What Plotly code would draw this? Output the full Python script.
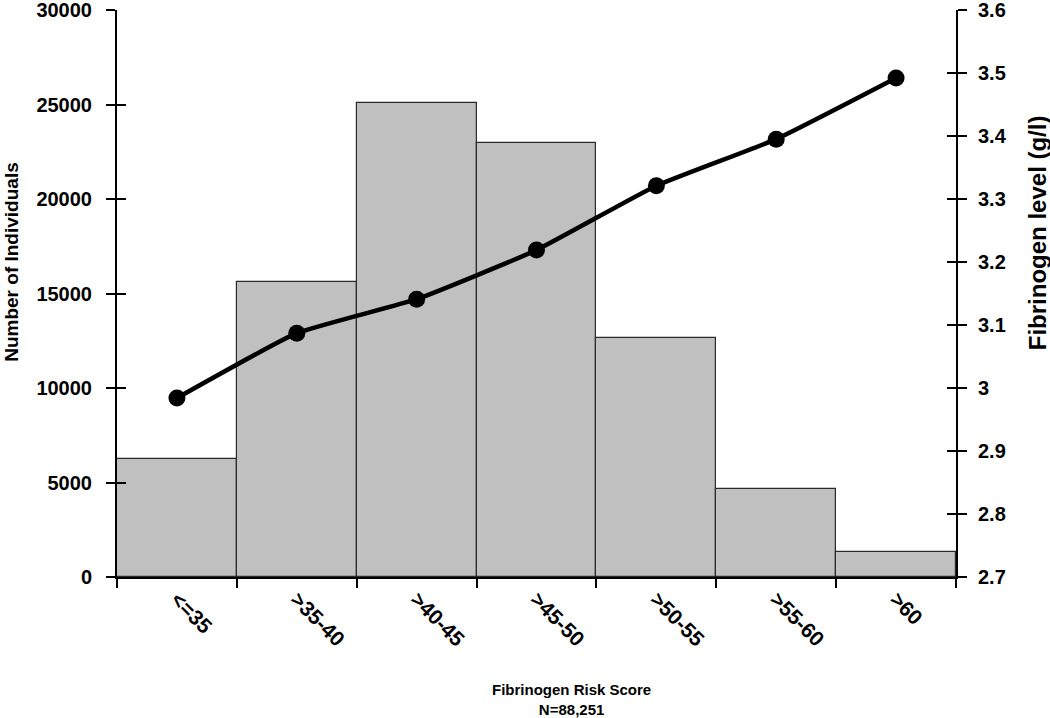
import plotly.graph_objects as go

categories = ["<=35", ">35-40", ">40-45", ">45-50", ">50-55", ">55-60", ">60"]
counts = [6250, 15600, 25100, 22950, 12650, 4650, 1300]
fibrinogen = [2.984, 3.087, 3.141, 3.219, 3.321, 3.395, 3.492]

left_ticks = [0, 5000, 10000, 15000, 20000, 25000, 30000]
left_tick_text = ["0", "5000", "10000", "15000", "20000", "25000", "30000"]
right_ticks = [2.7, 2.8, 2.9, 3.0, 3.1, 3.2, 3.3, 3.4, 3.5, 3.6]
right_tick_text = ["2.7", "2.8", "2.9", "3", "3.1", "3.2", "3.3", "3.4", "3.5", "3.6"]

FONT = "Liberation Sans, Arial, sans-serif"

fig = go.Figure()
fig.add_trace(go.Bar(
    x=categories, y=counts, yaxis="y",
    marker=dict(color="#c0c0c0", line=dict(color="#2a2a2a", width=1.2)),
    width=1.0, showlegend=False,
))
fig.add_trace(go.Scatter(
    x=categories, y=fibrinogen, yaxis="y2",
    mode="lines+markers",
    line=dict(color="black", width=4.5, shape="spline", smoothing=0.4),
    marker=dict(color="black", size=17),
    showlegend=False,
))

common = dict(ticks="outside", ticklen=9, tickwidth=2, tickcolor="black",
              showline=True, linecolor="black", linewidth=2, showgrid=False,
              zeroline=False, automargin=False, ticklabeloverflow="allow")

fig.update_layout(
    width=1050, height=718,
    margin=dict(l=117, r=94, t=10, b=141),
    paper_bgcolor="white", plot_bgcolor="white",
    font=dict(family=FONT, color="black"),
    bargap=0,
    xaxis=dict(
        type="category", tickson="boundaries", ticks="outside", ticklen=9,
        tickwidth=2, tickcolor="black", showline=True, linecolor="black",
        linewidth=2, tickangle=45, showgrid=False, automargin=False,
        tickfont=dict(family=FONT, size=21, color="black", weight="bold"),
    ),
    yaxis=dict(
        range=[0, 30000], tickvals=left_ticks, ticktext=left_tick_text,
        ticklabelstandoff=10,
        tickfont=dict(family=FONT, size=20, color="black", weight="bold"),
        **common,
    ),
    yaxis2=dict(
        range=[2.7, 3.6], tickvals=right_ticks, ticktext=right_tick_text,
        overlaying="y", side="right", ticklabelstandoff=7,
        tickfont=dict(family=FONT, size=20, color="black", weight="bold"),
        **common,
    ),
    yaxis3=dict(
        range=[0, 30000], tickvals=left_ticks, overlaying="y", side="left",
        ticks="inside", ticklen=9, tickwidth=2, tickcolor="black",
        showticklabels=False, showline=False, showgrid=False, zeroline=False,
        automargin=False,
    ),
    yaxis4=dict(
        range=[2.7, 3.6], tickvals=right_ticks, overlaying="y", side="right",
        ticks="inside", ticklen=9, tickwidth=2, tickcolor="black",
        showticklabels=False, showline=False, showgrid=False, zeroline=False,
        automargin=False,
    ),
    annotations=[
        dict(text="<b>Number of Individuals</b>", xref="paper", yref="paper",
             x=-0.1251, y=0.556, xanchor="center", yanchor="middle",
             textangle=-90, showarrow=False,
             font=dict(family=FONT, size=19, color="black")),
        dict(text="<b>Fibrinogen level (g/l)</b>", xref="paper", yref="paper",
             x=1.0965, y=0.608, xanchor="center", yanchor="middle",
             textangle=-90, showarrow=False,
             font=dict(family=FONT, size=24, color="black")),
        dict(text="<b>Fibrinogen Risk Score<br>N=88,251</b>", xref="paper", yref="paper",
             x=0.542, y=-0.2152, xanchor="center", yanchor="middle",
             showarrow=False,
             font=dict(family=FONT, size=15, color="black")),
    ],
)

# invisible traces so the inside-tick axes are drawn
fig.add_trace(go.Scatter(x=[categories[0]], y=[None], yaxis="y3", showlegend=False, hoverinfo="skip"))
fig.add_trace(go.Scatter(x=[categories[0]], y=[None], yaxis="y4", showlegend=False, hoverinfo="skip"))

fig.write_html("out.html", config={"displayModeBar": False},
               post_script="document.body.style.margin='0px';")
